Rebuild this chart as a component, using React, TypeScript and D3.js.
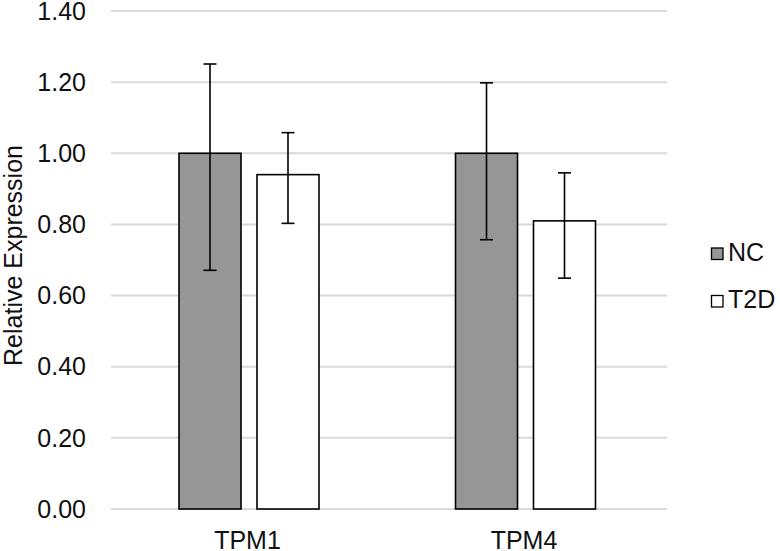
import React from "react";
import * as d3 from "d3";

const categories = ["TPM1", "TPM4"];
const seriesNames = ["NC", "T2D"];
const ncValues = [1.0, 1.0];
const t2dValues = [0.94, 0.81];
const ncErrUpper = [1.251, 1.198];
const ncErrLower = [0.671, 0.757];
const t2dErrUpper = [1.058, 0.945];
const t2dErrLower = [0.803, 0.649];
const yTicks = [0, 0.2, 0.4, 0.6, 0.8, 1.0, 1.2, 1.4];
const seriesColors = ["#969696", "#ffffff"];

const W = 780;
const H = 551;
const plotLeft = 111;
const plotRight = 667;
const plotTop = 11;
const plotBottom = 509;

export default function App() {
  const y = d3.scaleLinear().domain([0, 1.4]).range([plotBottom, plotTop]);
  const x0 = d3.scaleBand<string>().domain(categories).range([110.75, 663.75]).padding(0);
  const x1 = d3.scaleBand<string>().domain(seriesNames).range([-70, 70]).paddingInner(0.205).paddingOuter(0);
  const font = "'Liberation Sans', Arial, sans-serif";
  const values = [ncValues, t2dValues];
  const upper = [ncErrUpper, t2dErrUpper];
  const lower = [ncErrLower, t2dErrLower];
  const fmt = d3.format(".2f");
  const capHalf = 6.5;
  const fs = 25;

  return (
    <svg width={W} height={H} style={{ position: "absolute", left: 0, top: 0, background: "#fff" }}>
      {yTicks.map((t) => (
        <g key={t}>
          <line x1={plotLeft} x2={plotRight} y1={y(t)} y2={y(t)} stroke="#d9d9d9" strokeWidth={2} />
          <text x={86} y={y(t)} dy="0.35em" textAnchor="end" fontFamily={font} fontSize={fs} fill="#111">
            {fmt(t)}
          </text>
        </g>
      ))}
      {categories.map((c, i) => {
        const cx = (x0(c) as number) + x0.bandwidth() / 2;
        return (
          <g key={c}>
            {seriesNames.map((s, j) => {
              const bx = cx + (x1(s) as number);
              const bw = x1.bandwidth();
              const v = values[j][i];
              const mx = bx + bw / 2;
              return (
                <g key={s}>
                  <rect x={bx} y={y(v)} width={bw} height={y(0) - y(v)} fill={seriesColors[j]} stroke="#000" strokeWidth={1.6} />
                  <line x1={mx} x2={mx} y1={y(upper[j][i])} y2={y(lower[j][i])} stroke="#000" strokeWidth={1.6} />
                  <line x1={mx - capHalf} x2={mx + capHalf} y1={y(upper[j][i])} y2={y(upper[j][i])} stroke="#000" strokeWidth={1.6} />
                  <line x1={mx - capHalf} x2={mx + capHalf} y1={y(lower[j][i])} y2={y(lower[j][i])} stroke="#000" strokeWidth={1.6} />
                </g>
              );
            })}
            <text x={cx - 1.5} y={549} textAnchor="middle" fontFamily={font} fontSize={fs} fill="#111">
              {c}
            </text>
          </g>
        );
      })}
      <text
        transform={`translate(22, 255.5) rotate(-90)`}
        textAnchor="middle"
        fontFamily={font}
        fontSize={fs}
        fill="#111"
      >
        Relative Expression
      </text>
      {seriesNames.map((s, j) => (
        <g key={s} transform={`translate(711, ${247.5 + j * 47.5})`}>
          <rect x={0.5} y={0.5} width={11.5} height={11.5} fill={seriesColors[j]} stroke="#000" strokeWidth={1.3} />
          <text x={17} y={13} fontFamily={font} fontSize={fs} fill="#111">
            {s}
          </text>
        </g>
      ))}
    </svg>
  );
}
